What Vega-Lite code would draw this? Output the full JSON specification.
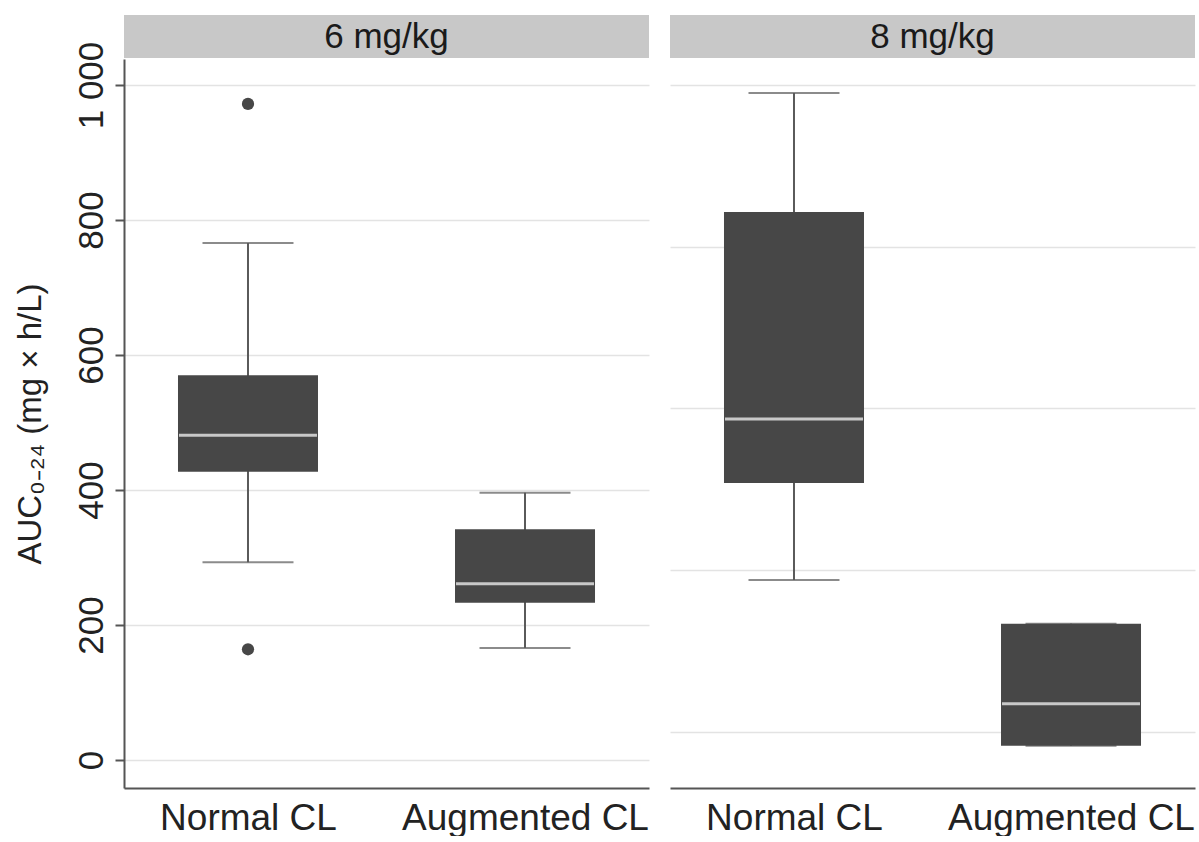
{
  "$schema": "https://vega.github.io/schema/vega-lite/v6.json",
  "background": "white",
  "padding": {"left": 13, "top": 15, "right": 2, "bottom": 0},
  "config": {
    "font": "Liberation Sans",
    "view": {"stroke": null},
    "axis": {"titleFontWeight": "normal", "labelColor": "#222222", "titleColor": "#222222"}
  },
  "datasets": {
    "panels": [{"dose": "6 mg/kg"}, {"dose": "8 mg/kg"}],
    "boxes": [
      {"dose": "6 mg/kg", "group": "Normal CL", "lower": 293, "q1": 427, "median": 481, "q3": 570, "upper": 766},
      {"dose": "6 mg/kg", "group": "Augmented CL", "lower": 166, "q1": 233, "median": 261, "q3": 342, "upper": 396},
      {"dose": "8 mg/kg", "group": "Normal CL", "lower": 388, "q1": 508, "median": 587, "q3": 843, "upper": 990},
      {"dose": "8 mg/kg", "group": "Augmented CL", "lower": 183, "q1": 183, "median": 235, "q3": 334, "upper": 334}
    ],
    "outliers": [
      {"dose": "6 mg/kg", "group": "Normal CL", "value": 972},
      {"dose": "6 mg/kg", "group": "Normal CL", "value": 164}
    ]
  },
  "spacing": 21,
  "hconcat": [
    {
      "spacing": 1,
      "bounds": "flush",
      "vconcat": [
        {
          "width": 525, "height": 43,
          "view": {"fill": "#c8c8c8", "stroke": null},
          "data": {"name": "panels"},
          "transform": [{"filter": "datum.dose == '6 mg/kg'"}],
          "mark": {"type": "text", "fontSize": 35, "color": "#1a1a1a", "baseline": "middle", "align": "center"},
          "encoding": {"text": {"field": "dose", "type": "nominal"}}
        },
        {
          "width": 525, "height": 729,
          "encoding": {
            "x": {
              "field": "group", "type": "nominal", "sort": ["Normal CL", "Augmented CL"],
              "scale": {"type": "point", "padding": 0.4476},
              "axis": {"title": null, "ticks": false, "labelAngle": 0, "labelFontSize": 37, "labelPadding": 12, "labelLimit": 0, "domainColor": "#555555", "domainWidth": 2, "grid": false}
            }
          },
          "layer": [
            {
              "data": {"name": "boxes"},
              "transform": [{"filter": "datum.dose == '6 mg/kg'"}],
              "layer": [
                {
                  "mark": {"type": "rule", "color": "#5a5a5a", "strokeWidth": 2},
                  "encoding": {
                    "y": {
                      "field": "lower", "type": "quantitative", "title": "AUC₀₋₂₄ (mg × h/L)",
                      "scale": {"domain": [-41.5, 1038.5], "nice": false, "zero": false},
                      "axis": {
                        "values": [0, 200, 400, 600, 800, 1000],
                        "labelExpr": "replace(format(datum.value, ','), ',', ' ')",
                        "labelAngle": -90, "labelFontSize": 35, "labelPadding": 6,
                        "tickSize": 9, "tickColor": "#555555", "tickWidth": 2,
                        "domainColor": "#555555", "domainWidth": 2,
                        "grid": true, "gridColor": "#e3e3e3", "gridWidth": 1.5,
                        "titleFontSize": 33, "titlePadding": 27
                      }
                    },
                    "y2": {"field": "upper"}
                  }
                },
                {
                  "mark": {"type": "tick", "color": "#5a5a5a", "thickness": 2, "size": 91},
                  "encoding": {"y": {"field": "lower", "type": "quantitative", "title": "AUC₀₋₂₄ (mg × h/L)"}}
                },
                {
                  "mark": {"type": "tick", "color": "#5a5a5a", "thickness": 2, "size": 91},
                  "encoding": {"y": {"field": "upper", "type": "quantitative", "title": "AUC₀₋₂₄ (mg × h/L)"}}
                },
                {
                  "mark": {"type": "bar", "color": "#474747", "size": 140},
                  "encoding": {"y": {"field": "q1", "type": "quantitative", "title": "AUC₀₋₂₄ (mg × h/L)"}, "y2": {"field": "q3"}}
                },
                {
                  "mark": {"type": "tick", "color": "#ffffff", "thickness": 3, "size": 138},
                  "encoding": {"y": {"field": "median", "type": "quantitative", "title": "AUC₀₋₂₄ (mg × h/L)"}}
                }
              ]
            },
            {
              "data": {"name": "outliers"},
              "transform": [{"filter": "datum.dose == '6 mg/kg'"}],
              "mark": {"type": "circle", "color": "#474747", "size": 150, "opacity": 1},
              "encoding": {"y": {"field": "value", "type": "quantitative", "title": "AUC₀₋₂₄ (mg × h/L)"}}
            }
          ]
        }
      ]
    },
    {
      "spacing": 1,
      "bounds": "flush",
      "vconcat": [
        {
          "width": 525, "height": 43,
          "view": {"fill": "#c8c8c8", "stroke": null},
          "data": {"name": "panels"},
          "transform": [{"filter": "datum.dose == '8 mg/kg'"}],
          "mark": {"type": "text", "fontSize": 35, "color": "#1a1a1a", "baseline": "middle", "align": "center"},
          "encoding": {"text": {"field": "dose", "type": "nominal"}}
        },
        {
          "width": 525, "height": 729,
          "data": {"name": "boxes"},
          "transform": [{"filter": "datum.dose == '8 mg/kg'"}],
          "encoding": {
            "x": {
              "field": "group", "type": "nominal", "sort": ["Normal CL", "Augmented CL"],
              "scale": {"type": "point", "padding": 0.4476},
              "axis": {"title": null, "ticks": false, "labelAngle": 0, "labelFontSize": 37, "labelPadding": 12, "labelLimit": 0, "domainColor": "#555555", "domainWidth": 2, "grid": false}
            }
          },
          "layer": [
            {
              "mark": {"type": "rule", "color": "#5a5a5a", "strokeWidth": 2},
              "encoding": {
                "y": {
                  "field": "lower", "type": "quantitative", "title": null,
                  "scale": {"domain": [130.8, 1032.1], "nice": false, "zero": false},
                  "axis": {
                    "values": [200, 400, 600, 800, 1000],
                    "labels": false, "ticks": false, "domain": false,
                    "grid": true, "gridColor": "#e3e3e3", "gridWidth": 1.5
                  }
                },
                "y2": {"field": "upper"}
              }
            },
            {
              "mark": {"type": "tick", "color": "#5a5a5a", "thickness": 2, "size": 91},
              "encoding": {"y": {"field": "lower", "type": "quantitative", "title": null}}
            },
            {
              "mark": {"type": "tick", "color": "#5a5a5a", "thickness": 2, "size": 91},
              "encoding": {"y": {"field": "upper", "type": "quantitative", "title": null}}
            },
            {
              "mark": {"type": "bar", "color": "#474747", "size": 140},
              "encoding": {"y": {"field": "q1", "type": "quantitative", "title": null}, "y2": {"field": "q3"}}
            },
            {
              "mark": {"type": "tick", "color": "#ffffff", "thickness": 3, "size": 138},
              "encoding": {"y": {"field": "median", "type": "quantitative", "title": null}}
            }
          ]
        }
      ]
    }
  ]
}
